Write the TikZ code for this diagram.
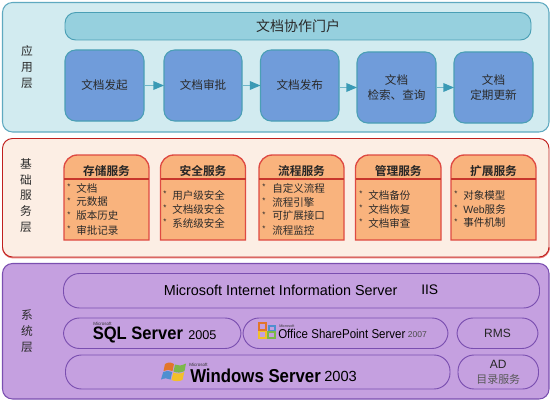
\documentclass[tikz,border=0pt]{standalone}
\usepackage{fontspec}
\usepackage{graphicx}
\setmainfont{Liberation Sans}
\newfontfamily\cjk{Noto Sans CJK SC}[BoldFont={Noto Sans CJK SC Bold}]
\usetikzlibrary{arrows.meta,calc}
\definecolor{tealpanel}{HTML}{D2EBF0}
\definecolor{tealedge}{HTML}{5FA9C0}
\definecolor{portalfill}{HTML}{96D0DE}
\definecolor{bluefill}{HTML}{709CDA}
\definecolor{blueedge}{HTML}{4A9FB5}
\definecolor{arrowline}{HTML}{6FB7C9}
\definecolor{arrowhead}{HTML}{3A9AB5}
\definecolor{peachpanel}{HTML}{FCEEE4}
\definecolor{rededge}{HTML}{C0201E}
\definecolor{redsoft}{HTML}{DE4A42}
\definecolor{orangefill}{HTML}{F9B37D}
\definecolor{purplepanel}{HTML}{C5A0E0}
\definecolor{purpleedge}{HTML}{7A4FB0}
\definecolor{inkgrey}{HTML}{2A2A2A}
\definecolor{oA}{HTML}{E2762A}
\definecolor{oB}{HTML}{4F8FD0}
\definecolor{oC}{HTML}{F2C02A}
\definecolor{oD}{HTML}{7CB84A}
\newcommand{\rbox}[7]{% name x1 y1 x2 y2 style text
  \pgfmathsetmacro{\rcx}{(#2+#4)/2}\pgfmathsetmacro{\rcy}{(#3+#5)/2}
  \pgfmathsetmacro{\rw}{(#4-#2)*0.75}\pgfmathsetmacro{\rh}{(#5-#3)*0.75}
  \node[#6,minimum width=\rw pt,minimum height=\rh pt,inner sep=0pt,outer sep=0pt,align=center] (#1) at (\rcx,\rcy) {#7};}
\tikzset{
  panelA/.style={draw=tealedge,fill=tealpanel,line width=0.8pt,rounded corners=7.5pt},
  panelB/.style={draw=rededge,fill=peachpanel,line width=0.7pt,rounded corners=7.5pt},
  panelC/.style={draw=purpleedge,fill=purplepanel,line width=0.8pt,rounded corners=7.5pt},
  portalbox/.style={draw=blueedge,fill=portalfill,line width=0.7pt,rounded corners=8pt,font=\cjk\fontsize{10.5}{12}\selectfont,text=inkgrey},
  flowbox/.style={draw=blueedge,fill=bluefill,line width=0.8pt,rounded corners=8pt,font=\cjk\fontsize{8.7}{11.5}\selectfont,text=inkgrey},
  flowarrow/.style={draw=arrowline,line width=1pt,-{Triangle[length=8pt,width=6.5pt,color=arrowhead]}},
  subbox/.style={draw=redsoft,fill=orangefill,line width=1pt},
  headtext/.style={font=\cjk\bfseries\fontsize{8.8}{11}\selectfont,text=black!85},
  listtext/.style={font=\cjk\fontsize{7.9}{10}\selectfont,anchor=west,inner sep=0pt,text=inkgrey},
  bulletmark/.style={font=\fontsize{6}{6}\selectfont,anchor=center,inner sep=0pt,text=inkgrey},
  sidelabel/.style={font=\cjk\fontsize{8.8}{11.8}\selectfont,align=center,text=inkgrey},
  sysbox/.style={draw=purpleedge,line width=0.7pt,rounded corners=12pt,font=\fontsize{9}{11}\selectfont,text=black!85},
  logotext/.style={anchor=west,inner sep=0pt,text=black},
  tinytext/.style={font=\fontsize{3.4}{4}\selectfont,anchor=west,inner sep=0pt,text=black!80},
}
\newcommand{\subsvc}[4]{% name x1 x2 title
  \rbox{#1}{#2}{155}{#3}{240}{}{}
  \draw[subbox] (#1.south west) -- (#1.west) [rounded corners=10pt] -- (#1.north west) -- (#1.north east) [sharp corners] -- (#1.east) -- (#1.south east) -- cycle;
  \draw[rededge!85!orangefill,line width=1.2pt] (#1.west |- 0,179) -- (#1.east |- 0,179);
  \node[headtext] (#1h) at ($(#1.north)+(0,15.7)$) {#4};
}
\newcommand{\listline}[5]{\node[bulletmark] (#1b) at (#2,#4-1.5) {*};\node[listtext] (#1) at (#3,#4) {#5};}
\begin{document}
\begin{tikzpicture}[x=0.75pt,y=-0.75pt]
\useasboundingbox (0,0) rectangle (553,403);
% top panel
\rbox{pa}{2.5}{2.5}{549}{132}{panelA}{}
\rbox{portal}{65}{12.5}{531}{40}{portalbox}{文档协作门户}
\rbox{f1}{65}{50}{144}{121}{flowbox}{文档发起}
\rbox{f2}{164}{50}{242}{121}{flowbox}{文档审批}
\rbox{f3}{260.5}{50}{339}{121}{flowbox}{文档发布}
\rbox{f4}{357}{52}{436}{123}{flowbox}{文档\\检索、查询}
\rbox{f5}{454}{52}{533}{123}{flowbox}{文档\\定期更新}
\draw[flowarrow] (f1.east) -- (f2.west);
\draw[flowarrow] (f2.east) -- (f3.west);
\draw[flowarrow] (f3.east |- f4.east) -- (f4.west);
\draw[flowarrow] (f4.east) -- (f5.west);
\node[sidelabel] (la) at (27,67) {应\\用\\层};
% middle panel
\draw[redsoft!70,line width=1.4pt,rounded corners=7.5pt] (3,250) -- (3,257.5) -- (549,257.5) -- (549,250);
\rbox{pb}{2.5}{138.5}{549}{257}{panelB}{}
\subsvc{s1}{64}{149}{存储服务}
\subsvc{s2}{160.5}{245.5}{安全服务}
\subsvc{s3}{259}{344}{流程服务}
\subsvc{s4}{355.5}{441}{管理服务}
\subsvc{s5}{451}{536}{扩展服务}
\node[sidelabel] (lb) at (26,195.5) {基\\础\\服\\务\\层};
\listline{i11}{69}{76}{188}{文档}
\listline{i12}{69}{76}{202}{元数据}
\listline{i13}{69}{76}{216}{版本历史}
\listline{i14}{69}{76}{230}{审批记录}
\listline{i21}{165}{172}{195}{用户级安全}
\listline{i22}{165}{172}{209}{文档级安全}
\listline{i23}{165}{172}{223}{系统级安全}
\listline{i31}{264}{272}{188}{自定义流程}
\listline{i32}{264}{272}{202}{流程引擎}
\listline{i33}{264}{272}{216}{可扩展接口}
\listline{i34}{264}{272}{230}{流程监控}
\listline{i41}{361}{368}{195}{文档备份}
\listline{i42}{361}{368}{209}{文档恢复}
\listline{i43}{361}{368}{223}{文档审查}
\listline{i51}{456}{463}{195}{对象模型}
\listline{i52}{456}{463}{209}{{\rmfamily Web}服务}
\listline{i53}{456}{463}{223}{事件机制}
% bottom panel
\rbox{pc}{2.5}{263.5}{549}{399}{panelC}{}
\node[sidelabel] (lc) at (27,331) {系\\统\\层};
\rbox{iis}{63.5}{273.5}{539.5}{308}{sysbox}{}
\rbox{sql}{63.5}{318}{241}{348.5}{sysbox}{}
\rbox{sps}{243}{318}{448}{348.5}{sysbox}{}
\rbox{rms}{457}{318}{538}{348.5}{sysbox}{RMS}
\rbox{win}{65.5}{355}{450}{389}{sysbox}{}
\rbox{ad}{458}{355}{538.5}{389}{sysbox}{AD\\{\cjk\fontsize{8.2}{10}\selectfont\color{black!65}目录服务}}
\node[logotext,font=\fontsize{10.8}{12}\selectfont] (iist) at (163.5,290) {Microsoft Internet Information Server};
\node[logotext,font=\fontsize{10.4}{12}\selectfont] (iisu) at (421,290) {IIS};
% SQL
\node[tinytext] (m1) at (93,323.5) {Microsoft};
\node[logotext,font=\bfseries\fontsize{13.5}{15}\selectfont] (sqlt) at (92.5,335) {\scalebox{0.92}[1]{SQL Server}};
\node[logotext,font=\fontsize{9.5}{12}\selectfont] (sqly) at (188,335.5) {2005};
% SharePoint
\draw[oA,line width=1.3pt] (259,323) rectangle (266,330);
\draw[oB,line width=1.3pt] (269,326) rectangle (275,331);
\draw[oC,line width=1.3pt] (259,331.5) rectangle (266,338);
\draw[oD,line width=1.3pt] (268,332) rectangle (275,338);
\node[tinytext,font=\fontsize{2.8}{3}\selectfont] (m2) at (279,326) {Microsoft};
\node[logotext,font=\fontsize{9.6}{12}\selectfont] (spst) at (278,334) {\scalebox{0.9}[1]{Office SharePoint Server}};
\node[logotext,font=\fontsize{6.4}{8}\selectfont,text=black!70] (spsy) at (407.5,335) {2007};
% Windows
\fill[oA] (165,364) .. controls (168,362) and (171,362) .. (174,364) -- (172.5,371) .. controls (169.5,369.5) and (166.5,369.5) .. (163.5,371) -- cycle;
\fill[oD] (175,364.5) .. controls (178,366) and (181,366) .. (186,363.5) -- (184.5,371) .. controls (181,373) and (177,373) .. (173.5,371.5) -- cycle;
\fill[oB] (163.2,372) .. controls (166,370.5) and (169,370.5) .. (172.2,372) -- (170.5,379.5) .. controls (167.5,378) and (164.5,378) .. (161,379.5) -- cycle;
\fill[oC] (173.3,372.5) .. controls (177,374) and (181,374) .. (184.3,372) -- (182.5,380) .. controls (179,381.5) and (175,381.5) .. (171.5,380) -- cycle;
\node[tinytext] (m3) at (189,365) {Microsoft};
\node[logotext,font=\bfseries\fontsize{14}{16}\selectfont] (wint) at (190,375.5) {\scalebox{0.9}[1]{Windows Server}};
\node[logotext,font=\fontsize{11}{13}\selectfont] (winy) at (324,376) {2003};
\end{tikzpicture}
\end{document}
